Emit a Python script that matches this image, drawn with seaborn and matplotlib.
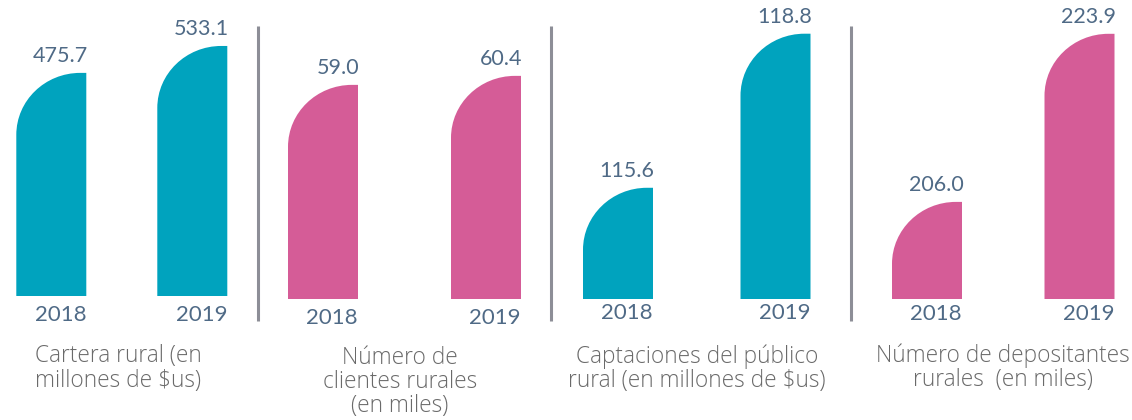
import numpy as np
import pandas as pd
import seaborn as sns
import matplotlib
matplotlib.use("Agg")
import matplotlib.pyplot as plt
from matplotlib.path import Path
from matplotlib.patches import PathPatch
from matplotlib.lines import Line2D

# ---- data ----
years = ["2018", "2019"]
cartera = [475.7, 533.1]
clientes = [59.0, 60.4]
captaciones = [115.6, 118.8]
depositantes = [206.0, 223.9]
series = [cartera, clientes, captaciones, depositantes]
titles = [
    "Cartera rural (en\nmillones de $us)",
    "Número de\nclientes rurales\n(en miles)",
    "Captaciones del público\nrural (en millones de $us)",
    "Número de depositantes\nrurales  (en miles)",
]

# value range shown on each panel's axis (bottom, top)
y_floor = [0.0, 25.7, 113.29, 195.66]
y_ceil = [631.1, 72.2, 119.5, 227.5]

# ---- style ----
TEAL = "#00a3be"
PINK = "#d55c97"
colors = [TEAL, PINK, TEAL, PINK]
VALUE_COLOR = "#4f6a86"
TITLE_COLOR = "#6a6a6a"
SEP_COLOR = "#8d8e97"

sns.set_theme(style="white")
plt.rcParams["font.family"] = ["Lato", "DejaVu Sans"]

W, H = 1132, 420
fig = plt.figure(figsize=(W / 100, H / 100), dpi=100)

# panel layout in pixels: centre of first bar, bar spacing, baseline
layout = [(51.3, 141.0, 296), (323.0, 163.0, 299), (618.0, 157.5, 299), (927.0, 152.5, 299)]
BAR_PX = 70
RX_PX, RY_PX = 64, 62
year_offset = [19, 19, 14, 15]
K = 0.5523

for i, (vals, col, (c0, sp, base)) in enumerate(zip(series, colors, layout)):
    ax = fig.add_axes([(c0 - sp / 2) / W, 1 - base / H, 2 * sp / W, base / H])
    ax.patch.set_alpha(0)
    df = pd.DataFrame({"year": years, "value": vals})
    sns.barplot(data=df, x="year", y="value", hue="year", palette=[col, col],
                width=BAR_PX / sp, saturation=1, legend=False, ax=ax)
    ax.set_xlim(-0.5, 1.5)
    ax.set_ylim(y_floor[i], y_ceil[i])
    ax.axis("off")

    ppu_y = base / (y_ceil[i] - y_floor[i])
    ry = RY_PX / ppu_y
    rx = RX_PX / sp
    for p in list(ax.patches):
        x0, w = p.get_x(), p.get_width()
        y0, top = p.get_y(), p.get_y() + p.get_height()
        verts = [
            (x0, y0),
            (x0, top - ry),
            (x0, top - ry + K * ry), (x0 + rx - K * rx, top), (x0 + rx, top),
            (x0 + w, top),
            (x0 + w, y0),
            (x0, y0),
        ]
        codes = [Path.MOVETO, Path.LINETO, Path.CURVE4, Path.CURVE4, Path.CURVE4,
                 Path.LINETO, Path.LINETO, Path.CLOSEPOLY]
        shape = PathPatch(Path(verts, codes), facecolor=p.get_facecolor(),
                          edgecolor="none", clip_on=True)
        p.set_visible(False)
        ax.add_patch(shape)

        ax.annotate(f"{top:.1f}", xy=(x0 + w, top), xytext=(1, 8),
                    textcoords="offset points", ha="right", va="baseline",
                    fontsize=15.5, color=VALUE_COLOR)
        ax.annotate(df.loc[int(round(x0 + w / 2)), "year"], xy=(x0 + w, y_floor[i]),
                    xytext=(0, -year_offset[i] * 0.72), textcoords="offset points",
                    ha="right", va="center", fontsize=16, color=VALUE_COLOR,
                    annotation_clip=False)

# category captions
caption_pos = [(35, 368.5, "left"), (400, 382, "center"), (697, 369, "center"), (1003, 368, "center")]
for (x, y, ha), t in zip(caption_pos, titles):
    fig.text(x / W, 1 - y / H, t, ha=ha, va="center", multialignment=ha,
             fontsize=16.3, color=TITLE_COLOR, fontweight="light",
             family=["Open Sans", "DejaVu Sans"], linespacing=1.02)

# vertical separators between panels
for x in (257.5, 550.5, 851.0):
    fig.add_artist(Line2D([x / W, x / W], [1 - 26 / H, 1 - 321 / H],
                          color=SEP_COLOR, lw=2.2, solid_capstyle="butt"))

fig.savefig("out.png", dpi=100, facecolor="white")
